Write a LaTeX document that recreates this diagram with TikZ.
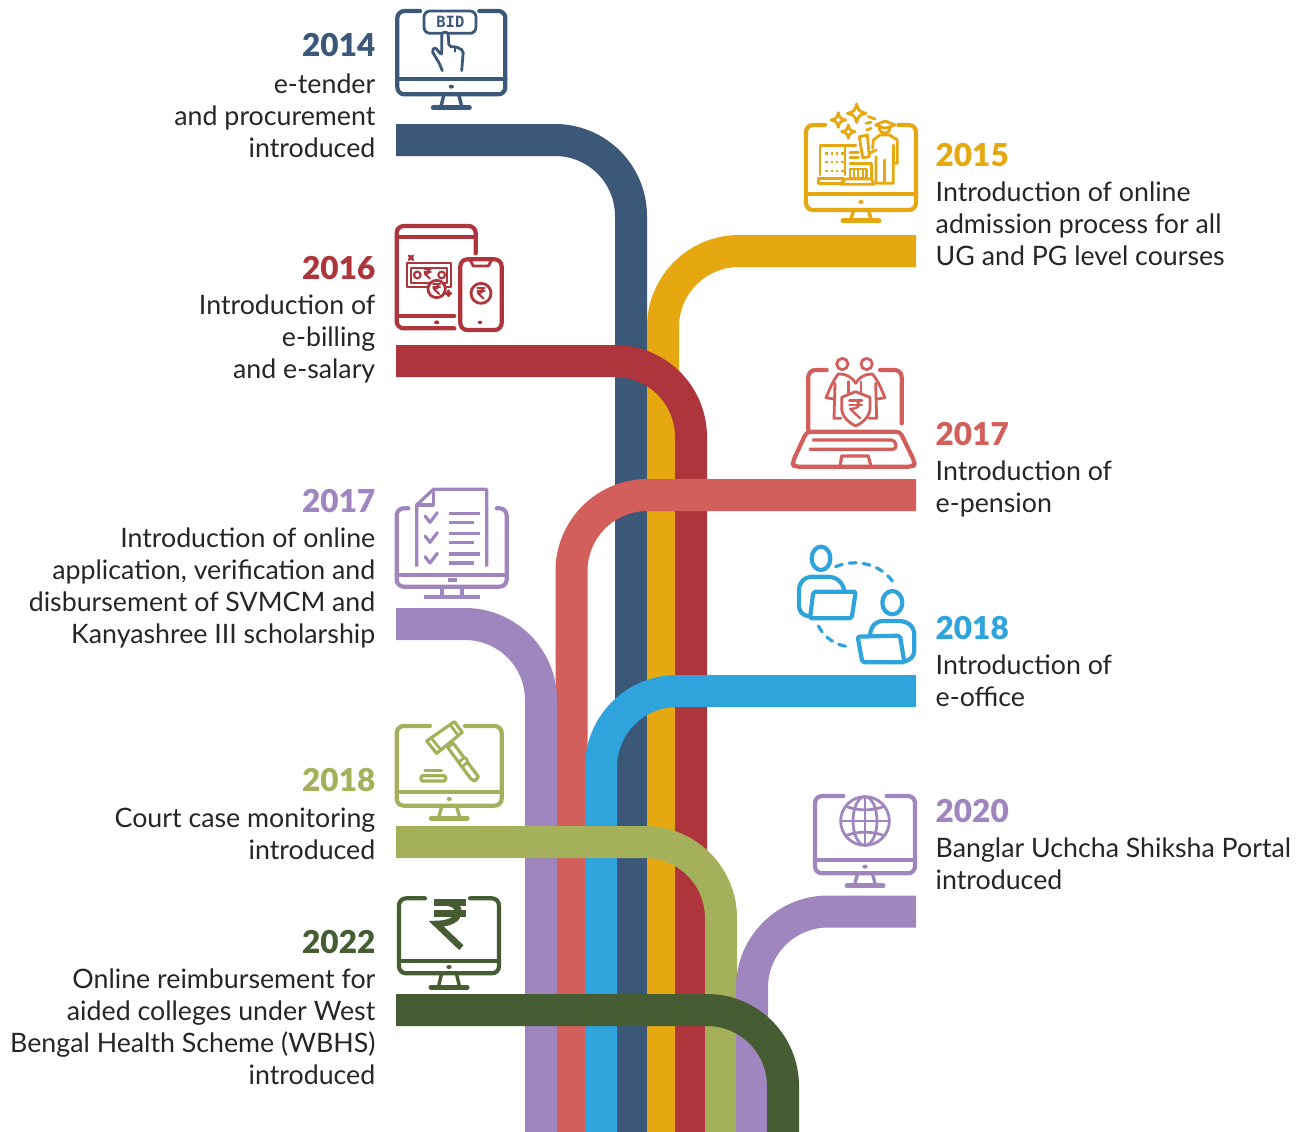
\documentclass[tikz,border=0pt]{standalone}
\usepackage{fontspec}
\setmainfont{Lato}
\newfontfamily\bidfont{DejaVu Sans Mono}
\newfontfamily\yearfont{Lato Black}
\definecolor{cBlue}{HTML}{3B5878}
\definecolor{cYellow}{HTML}{E5A811}
\definecolor{cRed}{HTML}{AE353B}
\definecolor{cPink}{HTML}{D25F5C}
\definecolor{cPurple}{HTML}{9F86BF}
\definecolor{cSky}{HTML}{2FA3DC}
\definecolor{cOlive}{HTML}{A5B15A}
\definecolor{cDark}{HTML}{465C33}
\tikzset{
  ribbon/.style={line width=32pt,rounded corners=76pt,line cap=butt},
  yrL/.style={anchor=base east,inner sep=0,font=\fontsize{31.5}{32}\selectfont\yearfont},
  yrR/.style={anchor=base west,inner sep=0,font=\fontsize{31.5}{32}\selectfont\yearfont},
  txL/.style={anchor=north east,yshift=22.4pt,inner sep=0,align=right,text=black!85,font=\fontsize{26.75}{32}\selectfont,execute at begin node=\strut},
  txR/.style={anchor=north west,yshift=22.4pt,inner sep=0,align=left,text=black!85,font=\fontsize{26.75}{32}\selectfont,execute at begin node=\strut},
  ic/.style={line width=4.2pt,line cap=round,line join=round},
  ic2/.style={line width=2.8pt,line cap=round,line join=round},
  ic3/.style={line width=2pt,line cap=round,line join=round},
  zc/.style 2 args={shift={(#1,#2)},x=.33333pt,y=-.33333pt},
}
% L, T, R, B, bar, gapL, gapR, baseY (zoomed coordinates)
\newcommand\monitorIcon[8]{%
  \pgfmathsetmacro\mymid{(#1+#3)/2}%
  \draw[ic,rounded corners=7pt] (#6,#2) -- (#1,#2) -- (#1,#4) -- (#3,#4) -- (#3,#2) -- (#7,#2);
  \draw[ic] (#1,#5) -- (#3,#5);
  \fill ({\mymid},{(#4+#5)/2}) ellipse (8 and 6);
  \draw[ic,line cap=butt,line width=3.4pt] ({\mymid-22},#4) -- ({\mymid-32},#8);
  \draw[ic,line cap=butt,line width=3.4pt] ({\mymid+22},#4) -- ({\mymid+32},#8);
  \draw[ic,line width=5pt] ({\mymid-54},#8) -- ({\mymid+54},#8);
}
% centre x, y, radius (zoomed)
\newcommand\rupeeIcon[3]{%
  \begin{scope}[shift={(#1,#2)},x=#3*.33333pt,y=-#3*.33333pt]
    \draw (-.7,-1) -- (.7,-1);
    \draw (-.7,-.5) -- (.7,-.5);
    \draw (-.3,-1) .. controls (.65,-1) and (.65,-.05) .. (-.6,-.05) -- (.5,1);
  \end{scope}%
}
\newcommand\sparkleIcon[3]{%
  \begin{scope}[shift={(#1,#2)},x=#3*.33333pt,y=-#3*.33333pt]
    \draw[ic2] (0,-1) .. controls (.15,-.3) and (.3,-.15) .. (1,0) .. controls (.3,.15) and (.15,.3) .. (0,1) .. controls (-.15,.3) and (-.3,.15) .. (-1,0) .. controls (-.3,-.15) and (-.15,-.3) .. (0,-1) -- cycle;
  \end{scope}%
}
\begin{document}
\begin{tikzpicture}[x=1pt,y=-1pt]
\useasboundingbox (0,0) rectangle (1302,1132);
\fill[white] (0,0) rectangle (1302,1132);

% ribbon ends
\coordinate (a14) at (396,140);  \coordinate (b14) at (631,1132);
\coordinate (a15) at (916,251);  \coordinate (b15) at (663,1132);
\coordinate (a16) at (396,361);  \coordinate (b16) at (691,1132);
\coordinate (a17) at (916,495);  \coordinate (b17) at (571.5,1132);
\coordinate (c17) at (396,624);  \coordinate (d17) at (541,1132);
\coordinate (a18) at (916,691);  \coordinate (b18) at (601,1132);
\coordinate (c18) at (396,842);  \coordinate (d18) at (721,1132);
\coordinate (a20) at (916,911.5);\coordinate (b20) at (752,1132);
\coordinate (a22) at (396,1010); \coordinate (b22) at (783,1132);

\draw[ribbon,cBlue]   (a14) -- (a14 -| b14) -- (b14);
\draw[ribbon,cYellow] (a15) -- (a15 -| b15) -- (b15);
\draw[ribbon,cRed]    (a16) -- (a16 -| b16) -- (b16);
\draw[ribbon,cPink]   (a17) -- (a17 -| b17) -- (b17);
\draw[ribbon,cPurple] (c17) -- (c17 -| d17) -- (d17);
\draw[ribbon,cSky]    (a18) -- (a18 -| b18) -- (b18);
\draw[ribbon,cOlive]  (c18) -- (c18 -| d18) -- (d18);
\draw[ribbon,cPurple] (a20) -- (a20 -| b20) -- (b20);
\draw[ribbon,cDark]   (a22) -- (a22 -| b22) -- (b22);

% labels left
\node[yrL,text=cBlue]   (y14) at (375.5,57)  {2014};
\node[txL] (t14) at (375.5,96) {e-tender\\and procurement\\introduced};
\node[yrL,text=cRed]    (y16) at (375.5,279) {2016};
\node[txL] (t16) at (375.5,317) {Introduction of\\e-billing\\and e-salary};
\node[yrL,text=cPurple] (y17) at (375.5,512) {2017};
\node[txL] (t17) at (375.5,550) {Introduction of online\\application, verification and\\disbursement of SVMCM and\\Kanyashree III scholarship};
\node[yrL,text=cOlive]  (y18) at (375.5,791) {2018};
\node[txL] (t18) at (375.5,830) {Court case monitoring\\introduced};
\node[yrL,text=cDark]   (y22) at (375.5,953) {2022};
\node[txL] (t22) at (375.5,991) {Online reimbursement for\\aided colleges under West\\Bengal Health Scheme (WBHS)\\introduced};
% labels right
\node[yrR,text=cYellow] (y15) at (935.5,166) {2015};
\node[txR] (t15) at (935.5,204) {Introduction of online\\admission process for all\\UG and PG level courses};
\node[yrR,text=cPink]   (y17b) at (935.5,445) {2017};
\node[txR] (t17b) at (935.5,483) {Introduction of\\e-pension};
\node[yrR,text=cSky]    (y18b) at (935.5,639) {2018};
\node[txR] (t18b) at (935.5,677) {Introduction of\\e-office};
\node[yrR,text=cPurple] (y20) at (935.5,822) {2020};
\node[txR] (t20) at (935.5,860) {Banglar Uchcha Shiksha Portal\\introduced};

% --- 2014 icon
\begin{scope}[zc={380}{0},cBlue,draw=cBlue,fill=cBlue]
  \monitorIcon{52}{33}{376}{283}{237}{120}{298}{323}
  \draw[ic2,rounded corners=6pt] (132,33) rectangle (288,100);
  \node[inner sep=0,text=cBlue,font=\bidfont\bfseries\fontsize{15.5}{16}\selectfont] (bid) at (211,67) {BID};
  \draw[ic2,fill=white,rounded corners=2pt] (187,212) -- (178,190) -- (155,152) -- (165,142) -- (185,165) -- (185,108) .. controls (187,95) and (203,95) .. (205,108) -- (207,140) -- (228,140) -- (250,152) -- (245,212);
  \draw[ic3] (225,142) -- (225,155);
\end{scope}

% --- 2015 icon
\begin{scope}[zc={790}{95},cYellow,draw=cYellow,fill=cYellow]
  \monitorIcon{48}{90}{378}{345}{297}{105}{325}{378}
  \sparkleIcon{200}{55}{28}
  \sparkleIcon{145}{75}{22}
  \sparkleIcon{175}{110}{20}
  \draw[ic2] (235,65) -- (255,72);
  \draw[ic2] (228,85) -- (243,82);
  \draw[ic2] (230,105) -- (243,100);
  % person
  \draw[ic2] (257,90) -- (285,78) -- (315,90) -- (285,100) -- cycle;
  \draw[ic2] (268,98) .. controls (268,120) and (300,120) .. (300,98);
  \draw[ic2] (248,160) -- (250,135) -- (270,120) -- (298,120) -- (322,135) -- (322,205) -- (310,205) -- (310,265) -- (258,265) -- (258,185);
  \draw[ic2] (310,150) -- (310,205);
  \draw[ic2] (284,195) -- (284,265);
  \draw[ic2] (208,125) -- (232,120) -- (238,185) -- (218,188) -- cycle;
  \draw[ic2] (238,175) -- (258,165);
  % buildings
  \draw[ic2] (90,240) -- (90,152) -- (165,152) -- (165,240);
  \foreach \yy in {172,198,224} \foreach \xx in {106,122,138,154} \fill (\xx,\yy) rectangle (\xx+7,\yy+7);
  \draw[ic2] (85,250) rectangle (160,265);
  \draw[ic2] (165,152) -- (198,152);
  \draw[ic2] (180,172) -- (205,172);
  \draw[ic2] (180,188) -- (205,188);
  \draw[ic2] (180,205) -- (245,205) -- (245,252);
  \draw[ic2] (180,222) rectangle (230,250);
  \foreach \xx in {192,205,218} \draw[ic3] (\xx,226) -- (\xx,248);
  \draw[ic2] (165,252) -- (150,268) -- (252,268) -- (245,252) -- cycle;
\end{scope}

% --- 2016 icon
\begin{scope}[zc={385}{220},cRed,draw=cRed,fill=cRed]
  \draw[ic,rounded corners=7pt] (272,100) -- (272,18) -- (35,18) -- (35,325) -- (208,325);
  \draw[ic] (35,52) -- (272,52);
  \draw[ic] (35,288) -- (208,288);
  \fill (155,307) ellipse (8 and 6);
  \draw[ic,rounded corners=7pt] (226,118) rectangle (350,330);
  \draw[ic2] (255,120) -- (265,138) -- (310,138) -- (320,120);
  \fill (285,307) ellipse (7 and 5);
  \draw[ic2] (288,220) circle (30);
  \begin{scope}[ic3]\rupeeIcon{288}{220}{16}\end{scope}
  \draw[ic3,line width=2.2pt] (65,130) rectangle (197,200);
  \draw[ic3] (78,145) rectangle (185,188);
  \draw[ic3,line width=2.2pt] (97,165) circle (10);
  \draw[ic3,line width=2.2pt] (170,165) circle (10);
  \begin{scope}[ic3]\rupeeIcon{128}{162}{14}\end{scope}
  \draw[ic2,fill=white] (155,207) circle (26);
  \begin{scope}[ic3]\rupeeIcon{155}{207}{15}\end{scope}
  \draw[ic3,line width=2.4pt] (72,107) -- (84,119);
  \draw[ic3,line width=2.4pt] (84,107) -- (72,119);
  \draw[ic3,line width=2.4pt] (182,220) -- (198,220);
  \draw[ic3,line width=2.4pt] (190,212) -- (190,228);
\end{scope}

% --- 2017 pension icon
\begin{scope}[zc={785}{350},cPink,draw=cPink,fill=cPink]
  \draw[ic,rounded corners=7pt] (125,60) -- (70,60) -- (70,240);
  \draw[ic,rounded corners=7pt] (285,60) -- (350,60) -- (350,220);
  \draw[ic,rounded corners=4pt] (65,245) -- (345,245) -- (390,338) -- (385,350) -- (27,350) -- (22,338) -- cycle;
  \draw[ic2,line width=3.2pt,rounded corners=4pt] (85,270) -- (330,270) -- (335,298) -- (75,298);
  \draw[ic2,line width=3.2pt] (165,350) -- (170,318) -- (250,318) -- (258,350);
  \draw[ic2] (172,42) circle (17);
  \draw[ic2] (245,42) circle (17);
  \draw[ic2] (212,100) .. controls (200,80) and (185,72) .. (160,72) .. controls (145,90) and (135,115) .. (123,143) -- (145,147);
  \draw[ic2] (212,100) .. controls (224,80) and (240,72) .. (262,72) .. controls (278,90) and (288,115) .. (300,143) -- (278,147);
  \draw[ic2] (150,100) -- (147,205) -- (168,205);
  \draw[ic2] (272,100) -- (275,205) -- (252,205);
  \draw[ic2] (190,95) -- (190,130);
  \draw[ic2] (228,95) -- (228,130);
  \draw[ic2] (170,142) -- (212,125) -- (255,142) -- (255,180) .. controls (250,205) and (230,220) .. (212,228) .. controls (195,220) and (175,205) .. (170,180) -- cycle;
  \begin{scope}[ic3,line width=2.4pt]\rupeeIcon{212}{178}{27}\end{scope}
\end{scope}

% --- 2017 scholarship icon
\begin{scope}[zc={385}{480},cPurple,draw=cPurple,fill=cPurple]
  \draw[ic,rounded corners=7pt] (70,85) -- (35,85) -- (35,320) -- (365,320) -- (365,85) -- (335,85);
  \draw[ic] (35,285) -- (365,285);
  \draw[ic,line cap=butt] (188,300) -- (215,300);
  \draw[ic,line cap=butt] (170,320) -- (170,352);
  \draw[ic,line cap=butt] (232,320) -- (232,352);
  \draw[ic,line cap=butt] (118,352) -- (285,352);
  \draw[ic,line width=3.2pt,line cap=butt] (95,260) -- (95,75) -- (145,28) -- (305,28) -- (305,260);
  \draw[ic,line width=3.2pt] (145,28) -- (145,75) -- (95,75);
  \foreach \dy in {0,60,122} {
    \draw[ic,line width=3.2pt] (120,108+\dy) -- (135,127+\dy) -- (157,98+\dy);
    \draw[ic,line width=3.2pt,line cap=butt] (192,100+\dy) -- (285,100+\dy);
    \draw[ic,line width=3.2pt,line cap=butt] (192,127+\dy) -- (267,127+\dy);
  }
\end{scope}

% --- 2018 e-office icon
\begin{scope}[zc={785}{540},cSky,draw=cSky,fill=cSky]
  \draw[ic] (108,55) ellipse (28 and 35);
  \draw[ic] (75,230) .. controls (50,225) and (42,215) .. (42,195) -- (42,150) .. controls (42,125) and (60,110) .. (85,110) -- (125,110) .. controls (155,110) and (172,125) .. (178,152);
  \draw[ic,rounded corners=2pt] (85,155) -- (212,155) -- (200,235) -- (75,235) -- cycle;
  \draw[ic] (322,188) ellipse (30 and 35);
  \draw[ic] (255,285) .. controls (258,258) and (272,243) .. (295,243) -- (340,243) .. controls (370,243) and (388,260) .. (388,285) -- (388,330) .. controls (388,350) and (375,362) .. (355,365);
  \draw[ic,rounded corners=2pt] (218,290) -- (345,287) -- (358,367) -- (232,367) -- cycle;
  \draw[ic,line width=3.2pt,dash pattern=on 7pt off 7pt] (152,80) .. controls (210,55) and (290,70) .. (328,132);
  \draw[ic,line width=3.2pt,dash pattern=on 7pt off 7pt] (100,258) .. controls (120,295) and (155,318) .. (195,320);
\end{scope}

% --- 2018 gavel icon
\begin{scope}[zc={385}{715},cOlive,draw=cOlive,fill=cOlive]
  \monitorIcon{35}{33}{350}{272}{232}{135}{240}{310}
  \draw[ic2,line width=3.2pt] (125,78) -- (208,20) -- (232,52) -- (155,115) -- cycle;
  \draw[ic2] (138,68) -- (168,105);
  \draw[ic2] (196,30) -- (220,62);
  \draw[ic2,line width=3.2pt] (188,97) -- (205,85) -- (280,185) -- (270,198) -- (258,192) -- cycle;
  \draw[ic2,fill=white,rounded corners=2pt] (220,142) -- (240,126) -- (250,140) -- (230,156) -- cycle;
  \draw[ic2,line width=3.2pt,rounded corners=2pt] (108,198) -- (108,182) -- (182,182) -- (182,198) -- cycle;
  \draw[ic2,line width=3.2pt] (120,167) -- (170,167);
\end{scope}

% --- 2020 globe icon
\begin{scope}[zc={800}{785},cPurple,draw=cPurple,fill=cPurple]
  \monitorIcon{45}{33}{345}{265}{225}{130}{260}{302}
  \draw[ic2] (195,108) circle (73);
  \draw[ic2] (195,108) ellipse (36 and 73);
  \draw[ic2] (195,35) -- (195,181);
  \draw[ic2] (122,108) -- (268,108);
  \draw[ic2] (137,64) .. controls (175,78) and (215,78) .. (253,64);
  \draw[ic2] (137,152) .. controls (175,138) and (215,138) .. (253,152);
\end{scope}

% --- 2022 rupee icon
\begin{scope}[zc={385}{890},cDark,draw=cDark,fill=cDark]
  \monitorIcon{42}{25}{342}{250}{212}{120}{255}{292}
  \begin{scope}[line width=6.4pt,line join=miter]\rupeeIcon{195}{105}{68}\end{scope}
\end{scope}
\end{tikzpicture}
\end{document}
